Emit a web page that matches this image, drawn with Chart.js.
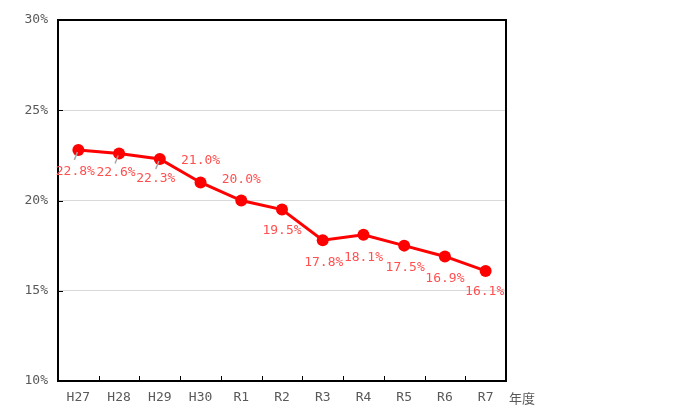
<!DOCTYPE html>
<html>
<head>
<meta charset="utf-8">
<script src="https://cdn.jsdelivr.net/npm/chart.js@4/dist/chart.umd.min.js"></script>
<style>
  html, body { margin: 0; padding: 0; background: #fff; }
  #wrap { width: 700px; height: 420px; }
</style>
</head>
<body>
<div id="wrap"><canvas id="grafico"></canvas></div>
<script>
// 年度
const ANOS = ["H27", "H28", "H29", "H30", "R1", "R2", "R3", "R4", "R5", "R6", "R7"];
// 割合 (%)
const VALORES = [22.8, 22.6, 22.3, 21.0, 20.0, 19.5, 17.8, 18.1, 17.5, 16.9, 16.1];
const Y_MIN = 10;
const Y_MAX = 30;
const Y_PASSO = 5;

// deslocamento dos rótulos em relação ao ponto (dx, dy)
const ROTULO_DX = [-3, -3, -4, 0, 0, 0, 1, 0, 1, 0, -1];
const ROTULO_DY = [22, 19, 20, -22, -21, 21, 22, 23, 22, 22, 21];
const COM_GUIA = [true, true, true, false, false, false, false, false, false, false, false];

const FONTE = "'DejaVu Sans Mono', 'Noto Sans CJK JP', monospace";

// moldura, marcas internas e rótulos de dados
const pluginExtras = {
  id: "extras",
  afterDraw(chart) {
    const ctx = chart.ctx;
    const a = chart.chartArea;
    const sy = chart.scales.y;
    ctx.save();

    // marcas internas do eixo y
    ctx.strokeStyle = "#000";
    ctx.lineWidth = 1;
    sy.ticks.forEach((t, i) => {
      const y = Math.round(sy.getPixelForTick(i)) + 0.5;
      ctx.beginPath();
      ctx.moveTo(a.left, y);
      ctx.lineTo(a.left + 5, y);
      ctx.stroke();
    });
    // marcas internas do eixo x (entre categorias)
    const larg = (a.right - a.left) / ANOS.length;
    for (let i = 1; i < ANOS.length; i++) {
      const x = Math.round(a.left + larg * i) + 0.5;
      ctx.beginPath();
      ctx.moveTo(x, a.bottom);
      ctx.lineTo(x, a.bottom - 5);
      ctx.stroke();
    }

    // moldura
    ctx.lineWidth = 2;
    ctx.strokeRect(a.left, a.top, a.right - a.left, a.bottom - a.top);

    // unidade
    ctx.fillStyle = "#595959";
    ctx.font = "13px 'Noto Sans CJK JP', sans-serif";
    ctx.textAlign = "left";
    ctx.textBaseline = "middle";
    ctx.fillText("年度", a.right + 3, a.bottom + 17);

    // rótulos dos pontos
    const meta = chart.getDatasetMeta(0);
    ctx.font = "13px " + FONTE;
    ctx.textAlign = "center";
    meta.data.forEach((p, i) => {
      if (COM_GUIA[i]) {
        ctx.strokeStyle = "#a6a6a6";
        ctx.lineWidth = 1.5;
        ctx.beginPath();
        ctx.moveTo(p.x - 1, p.y + 2);
        ctx.lineTo(p.x - 4, p.y + 10);
        ctx.stroke();
      }
      ctx.fillStyle = "#ff5050";
      ctx.fillText(VALORES[i].toFixed(1) + "%", p.x + ROTULO_DX[i], p.y + ROTULO_DY[i]);
    });
    ctx.restore();
  },
};

new Chart(document.getElementById("grafico"), {
  type: "line",
  data: {
    labels: ANOS,
    datasets: [
      {
        data: VALORES,
        borderColor: "#ff0000",
        backgroundColor: "#ff0000",
        borderWidth: 3,
        pointRadius: 6,
        pointBackgroundColor: "#ff0000",
        pointBorderWidth: 0,
        tension: 0,
      },
    ],
  },
  options: {
    responsive: true,
    maintainAspectRatio: false,
    animation: false,
    layout: { padding: { left: 0, top: 20, right: 194, bottom: 0 } },
    plugins: { legend: { display: false }, tooltip: { enabled: false } },
    scales: {
      x: {
        offset: true,
        grid: { display: false, drawTicks: false },
        border: { display: false },
        ticks: {
          color: "#595959",
          font: { family: FONTE, size: 13 },
          padding: 9,
          maxRotation: 0,
        },
        afterFit(s) { s.height = 39; },
      },
      y: {
        min: Y_MIN,
        max: Y_MAX,
        grid: { color: "#d9d9d9", lineWidth: 1, drawTicks: false },
        border: { display: false },
        ticks: {
          stepSize: Y_PASSO,
          color: "#595959",
          font: { family: FONTE, size: 13 },
          padding: 10,
          callback: (v) => v + "%",
        },
        afterFit(s) { s.width = 58; },
      },
    },
  },
  plugins: [pluginExtras],
});
</script>
</body>
</html>
